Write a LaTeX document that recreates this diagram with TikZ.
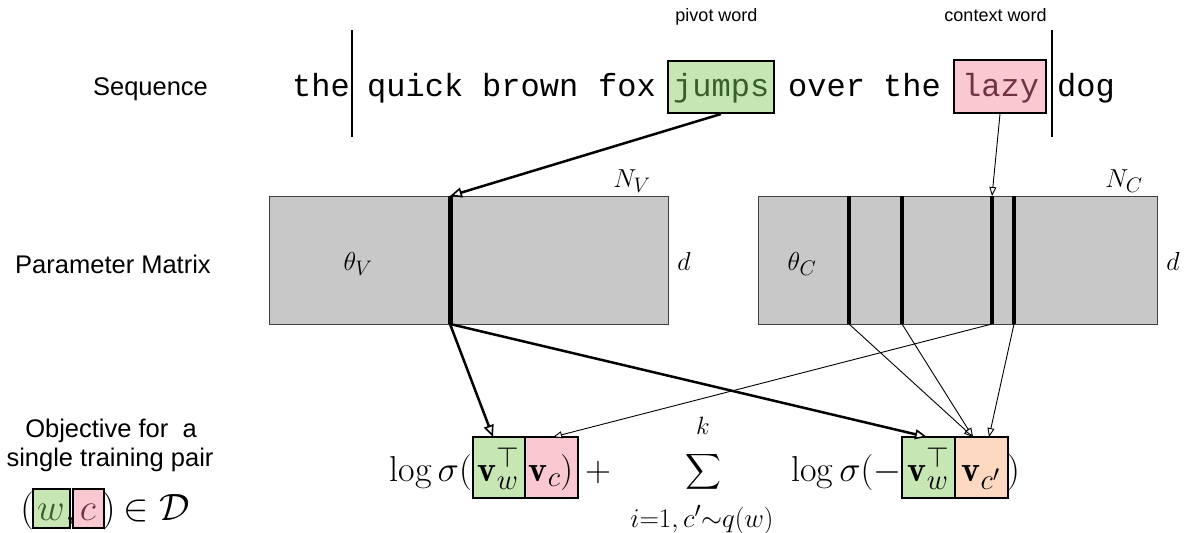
\RequirePackage{fix-cm}
\documentclass[tikz,border=0pt]{standalone}
\usepackage{amsmath}
\usepackage{fontspec}
\newfontfamily\labfont{Liberation Sans}
\newfontfamily\seqfont{Liberation Mono}
\usetikzlibrary{arrows.meta}
\DeclareMathSizes{36}{36}{29}{23}
\DeclareMathSizes{38}{38}{30}{24}
\DeclareMathSizes{26}{26}{21}{17}
\DeclareMathSizes{25}{25}{20}{16}
\DeclareMathSizes{27}{27}{22}{18}
\definecolor{gfill}{RGB}{198,230,179}
\definecolor{pfill}{RGB}{250,200,208}
\definecolor{ofill}{RGB}{253,217,193}
\definecolor{mfill}{RGB}{200,200,200}
\definecolor{gtext}{RGB}{56,94,44}
\definecolor{ptext}{RGB}{112,52,64}
\begin{document}
\begin{tikzpicture}[x=1pt,y=-1pt,
  lab/.style={font=\labfont\fontsize{25.5}{30}\selectfont, inner sep=0pt, anchor=base},
  smalllab/.style={font=\labfont\fontsize{18}{21}\selectfont, inner sep=0pt, anchor=base},
  seq/.style={font=\seqfont\fontsize{32}{36}\selectfont, inner sep=0pt, anchor=base west},
  wbox/.style={draw=black, line width=2pt, inner sep=0pt},
  mat/.style={draw=black!75, line width=1pt, fill=mfill, inner sep=0pt},
  colline/.style={line width=4.5pt},
  bar/.style={line width=2.5pt},
  thickarr/.style={line width=2.5pt, -{Triangle[fill=white, length=12pt, width=10pt, line width=1.6pt]}},
  thinarr/.style={line width=0.9pt, -{Triangle[fill=white, length=9pt, width=7pt, line width=0.9pt]}},
  mth/.style={font=\fontsize{36}{43}\selectfont, inner sep=0pt, anchor=base},
  mth2/.style={font=\fontsize{38}{45}\selectfont, inner sep=0pt, anchor=base},
  mlab/.style={font=\fontsize{26}{31}\selectfont, inner sep=0pt, anchor=base},
]
\useasboundingbox (0,0) rectangle (1184,533);

% ---------- row labels ----------
\node[lab] (seqlab) at (150.5,95) {Sequence};
\node[lab] (parlab) at (113,273) {Parameter Matrix};
\node[lab] (obj1) at (111,437) {Objective for\ \ a};
\node[lab] (obj2) at (110,466) {single training pair};

% ---------- sequence ----------
\node[smalllab] (pivot) at (716.5,21) {pivot word};
\node[smalllab] (context) at (995.5,21) {context word};

\node[wbox, fill=gfill, minimum width=106pt, minimum height=52pt] (jbox) at (721,87) {};
\node[wbox, fill=pfill, minimum width=92pt, minimum height=53pt] (lbox) at (1000,86.5) {};

\node[seq] (w1) at (292,96) {the};
\node[seq] (w2) at (367,96) {quick};
\node[seq] (w3) at (482,96) {brown};
\node[seq] (w4) at (598,96) {fox};
\node[seq, text=gtext] (w5) at (673,96) {jumps};
\node[seq] (w6) at (788,96) {over};
\node[seq] (w7) at (883,96) {the};
\node[seq, text=ptext] (w8) at (962,96) {lazy};
\node[seq] (w9) at (1057,96) {dog};

\coordinate (b1t) at (352,30); \coordinate (b1b) at (352,137);
\coordinate (b2t) at (1052,30); \coordinate (b2b) at (1052,137);
\draw[bar] (b1t) -- (b1b);
\draw[bar] (b2t) -- (b2b);

% ---------- parameter matrices ----------
\node[mat, minimum width=399pt, minimum height=128pt] (MV) at (468.5,260) {};
\node[mat, minimum width=399pt, minimum height=128pt] (MC) at (957.5,260) {};

\coordinate (cvt) at (450,196); \coordinate (cvb) at (450,324);
\draw[colline, line width=5pt] (cvt) -- (cvb);

\coordinate (c1t) at (849,196); \coordinate (c1b) at (849,324);
\coordinate (c2t) at (902,196); \coordinate (c2b) at (902,324);
\coordinate (c3t) at (992,196); \coordinate (c3b) at (992,324);
\coordinate (c4t) at (1014,196); \coordinate (c4b) at (1014,324);
\draw[colline] (c1t) -- (c1b);
\draw[colline] (c2t) -- (c2b);
\draw[colline] (c3t) -- (c3b);
\draw[colline] (c4t) -- (c4b);

\node[mlab] (thV) at (358,270) {$\theta_V$};
\node[mlab] (NV) at (632,187) {$N_V$};
\node[mlab] (dV) at (684,270) {$d$};
\node[mlab] (thC) at (802,270) {$\theta_C$};
\node[mlab] (NC) at (1124,187) {$N_C$};
\node[mlab] (dC) at (1173,270) {$d$};

% ---------- objective ----------
\node[wbox, fill=gfill, minimum width=52pt, minimum height=61pt] (g1) at (499,467.5) {};
\node[wbox, fill=pfill, minimum width=53pt, minimum height=61pt] (p1) at (551.5,467.5) {};
\node[wbox, fill=gfill, minimum width=53pt, minimum height=61pt] (g2) at (928.5,467.5) {};
\node[wbox, fill=ofill, minimum width=53pt, minimum height=61pt] (o1) at (981.5,467.5) {};

\node[mth, anchor=base east] (lg1) at (472,481) {$\log\sigma($};
\node[mth] (t1) at (499,481) {$\mathbf{v}_w^{\top}$};
\node[mth] (t2) at (551,481) {$\mathbf{v}_c)$};
\node[mth] (plus) at (598,481) {$+$};
\node[mth] (sum) at (703,481) {$\displaystyle\sum$};
\node[mth, font=\fontsize{25}{30}\selectfont] (sumk) at (703,434) {$k$};
\node[mth, font=\fontsize{27}{32}\selectfont] (sumsub) at (702,527) {$i{=}1,c'{\sim}q(w)$};
\node[mth, anchor=base west] (lg2) at (791,481) {$\log\sigma(-$};
\node[mth] (t3) at (929,481) {$\mathbf{v}_w^{\top}$};
\node[mth] (t4) at (981,481) {$\mathbf{v}_{c'}$};
\node[mth, anchor=base west] (rp) at (1007,481) {$)$};

% ---------- training pair ----------
\node[wbox, fill=gfill, minimum width=37pt, minimum height=39pt] (wb) at (51.5,508.5) {};
\node[wbox, fill=pfill, minimum width=31pt, minimum height=39pt] (cb) at (88.5,508.5) {};
\node[mth2, anchor=base east] (lpar) at (34,520) {$($};
\node[mth2, text=gtext] (wt) at (51,520) {$w$};
\node[mth2] (comma) at (70,520) {$,$};
\node[mth2, text=ptext] (ct) at (88,520) {$c$};
\node[mth2, anchor=base west] (rpar) at (102,520) {$)$};
\node[mth2, anchor=base west] (inD) at (123,520) {$\in\mathcal{D}$};

% ---------- connectors ----------
\draw[thickarr] (jbox.south) -- (cvt);
\draw[thinarr] (lbox.south) -- (c3t);

\coordinate (g1t) at (493,437);
\coordinate (g2t) at (927,437);
\coordinate (p1t) at (553,437);
\coordinate (o1a) at (973,437);
\coordinate (o1b) at (989,437);
\draw[thickarr] (cvb) -- (g1t);
\draw[thickarr] (cvb) -- (g2t);
\draw[thinarr] (c3b) -- (p1t);
\draw[thinarr] (c1b) -- (o1a);
\draw[thinarr] (c2b) -- (o1a);
\draw[thinarr] (c4b) -- (o1b);
\end{tikzpicture}
\end{document}
